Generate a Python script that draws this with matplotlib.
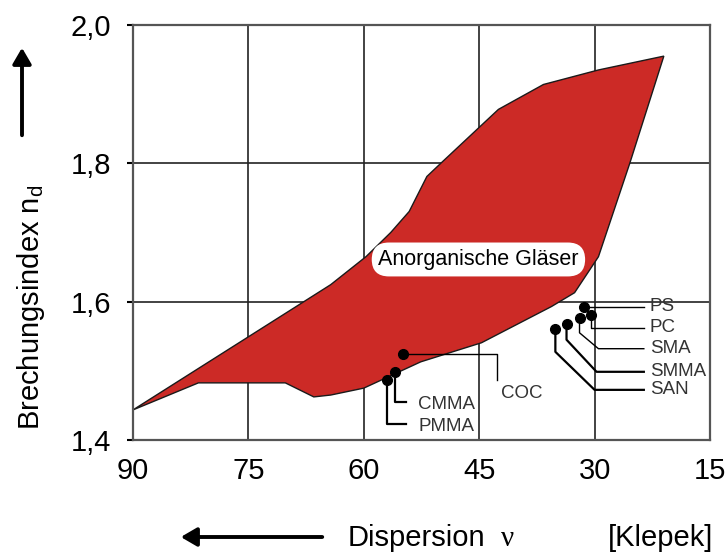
import matplotlib
matplotlib.use("Agg")
from matplotlib import pyplot as plt
from matplotlib.patches import Polygon, FancyArrowPatch

plt.rcParams['font.family'] = ['Liberation Sans', 'DejaVu Sans']
plt.rcParams['mathtext.default'] = 'regular'

# Umriss der anorganischen Glaeser (Abbe-Zahl, Brechungsindex)
glass_v = [90.0, 64.3, 59.7, 56.5, 54.1, 51.8, 50.0, 45.0, 42.5, 36.65, 29.5, 21.0,
           25.4, 29.5, 32.6, 35.6, 44.7, 52.6, 60.0, 64.3, 66.5, 70.2, 81.5]
glass_n = [1.4435, 1.6246, 1.6652, 1.700, 1.7304, 1.781, 1.800, 1.852, 1.878, 1.914, 1.935, 1.955,
           1.801, 1.665, 1.613, 1.593, 1.5406, 1.513, 1.475, 1.465, 1.4623, 1.4826, 1.4826]

# Kunststoffe
names = ["PS", "PC", "SMA", "SMMA", "SAN", "COC", "CMMA", "PMMA"]
pts_v = [31.4, 30.5, 31.96, 33.65, 35.1, 54.9, 56.0, 57.0]
pts_n = [1.593, 1.581, 1.577, 1.567, 1.561, 1.525, 1.4986, 1.487]

# Fuehrungslinien und Beschriftungspositionen
lead_x = [[23.6], [30.5, 23.6], [31.96, 29.5, 23.6], [33.65, 29.75, 23.6], [35.1, 30.0, 23.6],
          [42.65, 42.65], [56.0, 54.5], [57.0, 54.5]]
lead_y = [[1.593], [1.5623, 1.5623], [1.555, 1.532, 1.532], [1.545, 1.4986, 1.4986],
          [1.5275, 1.4725, 1.4725], [1.525, 1.487], [1.455, 1.455], [1.4232, 1.4232]]
lab_v = [22.8, 22.8, 22.8, 22.8, 22.8, 39.5, 52.9, 52.9]
lab_n = [1.593, 1.5623, 1.532, 1.4986, 1.4725, 1.4667, 1.452, 1.420]
lab_ha = ["left", "left", "left", "left", "left", "center", "left", "left"]

xticks = [90, 75, 60, 45, 30, 15]
yticks = [1.4, 1.6, 1.8, 2.0]

fig = plt.figure(figsize=(7.26, 5.54), dpi=100)
ax = fig.add_axes([133/726, 1-440/554, 577/726, 415/554])
ax.set_xlim(90, 15)
ax.set_ylim(1.4, 2.0)

for x in xticks[1:-1]:
    ax.axvline(x, color="#222222", lw=1.2, zorder=1)
for y in yticks[1:-1]:
    ax.axhline(y, color="#222222", lw=1.2, zorder=1)

poly = Polygon(list(zip(glass_v, glass_n)), closed=True, facecolor="#cc2a26",
               edgecolor="#1a1a1a", lw=1.0, zorder=2)
ax.add_patch(poly)

for i in range(len(names)):
    xs = [pts_v[i]] + lead_x[i]
    ys = [pts_n[i]] + lead_y[i]
    ax.plot(xs, ys, color="black", lw=1.6 if i in (3, 4, 6, 7) else 1.0, zorder=3)
    ax.text(lab_v[i], lab_n[i], names[i], ha=lab_ha[i], va="center", fontsize=13.5,
            color="#333333", zorder=4)
ax.plot(pts_v, pts_n, "o", color="black", ms=7, zorder=5)

ax.text(45.1, 1.661, "Anorganische Gläser", ha="center", va="center", fontsize=15.5, zorder=6,
        bbox=dict(boxstyle="round,pad=0.3,rounding_size=0.8", fc="white", ec="none"))

ax.set_xticks(xticks)
ax.set_xticklabels([str(x) for x in xticks])
ax.set_yticks(yticks)
ax.set_yticklabels(["1,4", "1,6", "1,8", "2,0"])
ax.tick_params(axis="x", length=0, pad=12, labelsize=21)
ax.tick_params(axis="y", length=4, width=1.5, pad=12, labelsize=21)
for s in ax.spines.values():
    s.set_color("#555555")
    s.set_linewidth(1.6)

fig.text(31/726, 1-307/554, "Brechungsindex n$_d$", rotation=90, ha="center", va="center", fontsize=21)
fig.text(348/726, 1-546/554, "Dispersion", ha="left", va="baseline", fontsize=21)
fig.text(501/726, 1-546/554, "ν", ha="left", va="baseline", fontsize=21, family="Liberation Serif")
fig.text(713/726, 1-546/554, "[Klepek]", ha="right", va="baseline", fontsize=21)

fig.add_artist(FancyArrowPatch((325/726, 1-537/554), (178/726, 1-537/554),
               transform=fig.transFigure, arrowstyle="-|>,head_length=6,head_width=3.5",
               mutation_scale=1.6, lw=2.8, color="black"))
fig.add_artist(FancyArrowPatch((22/726, 1-138/554), (22/726, 1-45/554),
               transform=fig.transFigure, arrowstyle="-|>,head_length=6,head_width=3.5",
               mutation_scale=1.6, lw=2.8, color="black"))

plt.savefig("out.png", dpi=100)
